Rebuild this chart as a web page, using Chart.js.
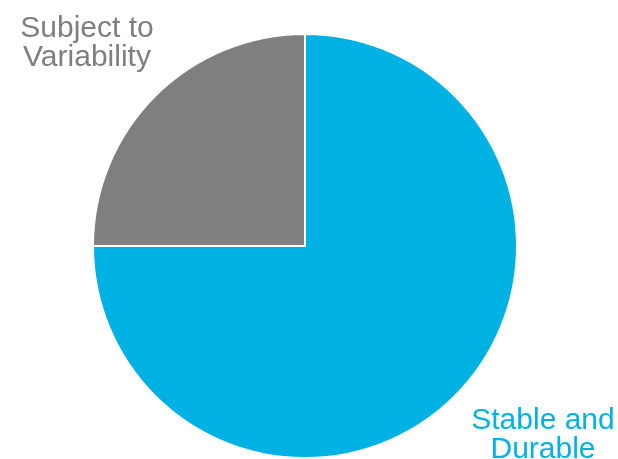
<!DOCTYPE html>
<html lang="en">
<head>
    <meta charset="UTF-8">
    <title>Stable vs Variable</title>
    <script src="https://cdn.jsdelivr.net/npm/chart.js"></script>
    <style>
        body { margin: 0; padding: 0; background: #ffffff; }
        #wrap { width: 618px; height: 459px; position: relative; }
    </style>
</head>
<body>
    <div id="wrap"><canvas id="pie"></canvas></div>
    <script>
        // Data
        const sliceLabels = ['Stable and Durable', 'Subject to Variability'];
        const sliceValues = [75, 25];
        const sliceColors = ['#00b2e3', '#7f7f7f'];
        // label text split into lines
        const labelLines = [['Stable and', 'Durable'], ['Subject to', 'Variability']];

        // draws the two category labels in the corners
        const cornerLabels = {
            id: 'cornerLabels',
            afterDraw(chart) {
                const ctx = chart.ctx;
                const w = chart.width;
                ctx.save();
                ctx.font = '30px "Liberation Sans", Arial, sans-serif';
                ctx.textAlign = 'center';
                ctx.textBaseline = 'alphabetic';
                // Subject to Variability - top left
                ctx.fillStyle = sliceColors[1];
                labelLines[1].forEach((t, i) => ctx.fillText(t, 87, 37 + i * 29));
                // Stable and Durable - bottom right
                ctx.fillStyle = sliceColors[0];
                labelLines[0].forEach((t, i) => ctx.fillText(t, w - 75, 429 + i * 29));
                ctx.restore();
            }
        };

        new Chart(document.getElementById('pie'), {
            type: 'pie',
            data: {
                labels: sliceLabels,
                datasets: [{
                    data: sliceValues,
                    backgroundColor: sliceColors,
                    borderColor: '#ffffff',
                    borderWidth: 2,
                    hoverOffset: 0
                }]
            },
            options: {
                responsive: true,
                maintainAspectRatio: false,
                animation: false,
                layout: { padding: { top: 33, bottom: 0, left: 0, right: 8 } },
                plugins: {
                    legend: { display: false },
                    tooltip: { enabled: false }
                }
            },
            plugins: [cornerLabels]
        });
    </script>
</body>
</html>
